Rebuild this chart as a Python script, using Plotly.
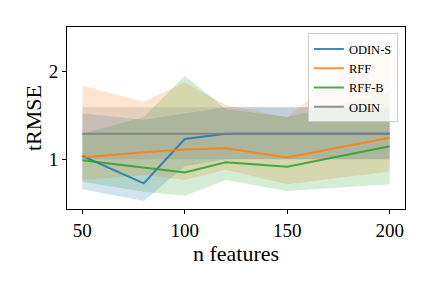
import plotly.graph_objects as go

n_features = [50, 80, 100, 120, 150, 200]

odin_s_mean = [1.037, 0.727, 1.23, 1.29, 1.29, 1.29]
odin_s_low = [0.66, 0.526, 0.92, 1.0, 1.0, 1.0]
odin_s_high = [1.52, 1.45, 1.52, 1.59, 1.59, 1.59]

rff_mean = [1.02, 1.08, 1.11, 1.125, 1.02, 1.245]
rff_low = [0.765, 0.82, 0.765, 0.88, 0.716, 0.86]
rff_high = [1.836, 1.655, 1.875, 1.617, 1.477, 2.41]

rffb_mean = [0.99, 0.905, 0.85, 0.966, 0.916, 1.148]
rffb_low = [0.745, 0.63, 0.586, 0.765, 0.64, 0.716]
rffb_high = [1.29, 1.48, 1.95, 1.57, 1.48, 1.76]

odin_mean = [1.29, 1.29, 1.29, 1.29, 1.29, 1.29]
odin_low = [1.0, 1.0, 1.0, 1.0, 1.0, 1.0]
odin_high = [1.59, 1.59, 1.59, 1.59, 1.59, 1.59]

series = [
    ("ODIN-S", odin_s_mean, odin_s_low, odin_s_high, "#1f77b4", "rgba(31,119,180,0.2)"),
    ("RFF", rff_mean, rff_low, rff_high, "#ff7f0e", "rgba(255,127,14,0.2)"),
    ("RFF-B", rffb_mean, rffb_low, rffb_high, "#2ca02c", "rgba(44,160,44,0.2)"),
    ("ODIN", odin_mean, odin_low, odin_high, "#7f7f7f", "rgba(127,127,127,0.2)"),
]

fig = go.Figure()
for name, mean, low, high, color, fillc in series:
    fig.add_trace(go.Scatter(
        x=n_features + n_features[::-1], y=high + low[::-1],
        mode="lines", fill="toself", fillcolor=fillc,
        line=dict(width=0), showlegend=False, hoverinfo="skip"))
for name, mean, low, high, color, fillc in series:
    fig.add_trace(go.Scatter(
        x=n_features, y=mean, mode="lines", name=name, opacity=0.85,
        line=dict(color=color, width=2), showlegend=True))

serif = "Liberation Serif, DejaVu Serif, serif"
# page body has an 8px default margin; margins compensate for it
fig.update_layout(
    width=432, height=288,
    margin=dict(l=59, r=35, t=19, b=87),
    paper_bgcolor="white", plot_bgcolor="white",
    font=dict(family=serif, color="black", size=19),
    legend=dict(
        x=0.979, xanchor="right", y=0.965, yanchor="top",
        bgcolor="rgba(255,255,255,0.8)", bordercolor="#cccccc", borderwidth=1,
        font=dict(family=serif, size=12.5, color="black"),
        tracegroupgap=0, itemwidth=30,
    ),
)
fig.update_xaxes(
    range=[42.5, 207.5], tickvals=[50, 100, 150, 200],
    showgrid=False, zeroline=False, automargin=False,
    showline=True, linecolor="black", linewidth=1, mirror=True,
    ticks="outside", ticklen=4, tickcolor="black",
    title=dict(text="n features", font=dict(size=22), standoff=1),
    tickfont=dict(size=19),
)
fig.update_yaxes(
    range=[0.435, 2.503], tickvals=[1, 2],
    showgrid=False, zeroline=False, automargin=False,
    showline=True, linecolor="black", linewidth=1, mirror=True,
    ticks="outside", ticklen=4, tickcolor="black",
    title=dict(text="tRMSE", font=dict(size=22), standoff=1),
    tickfont=dict(size=19),
)

fig.write_html("out.html")
